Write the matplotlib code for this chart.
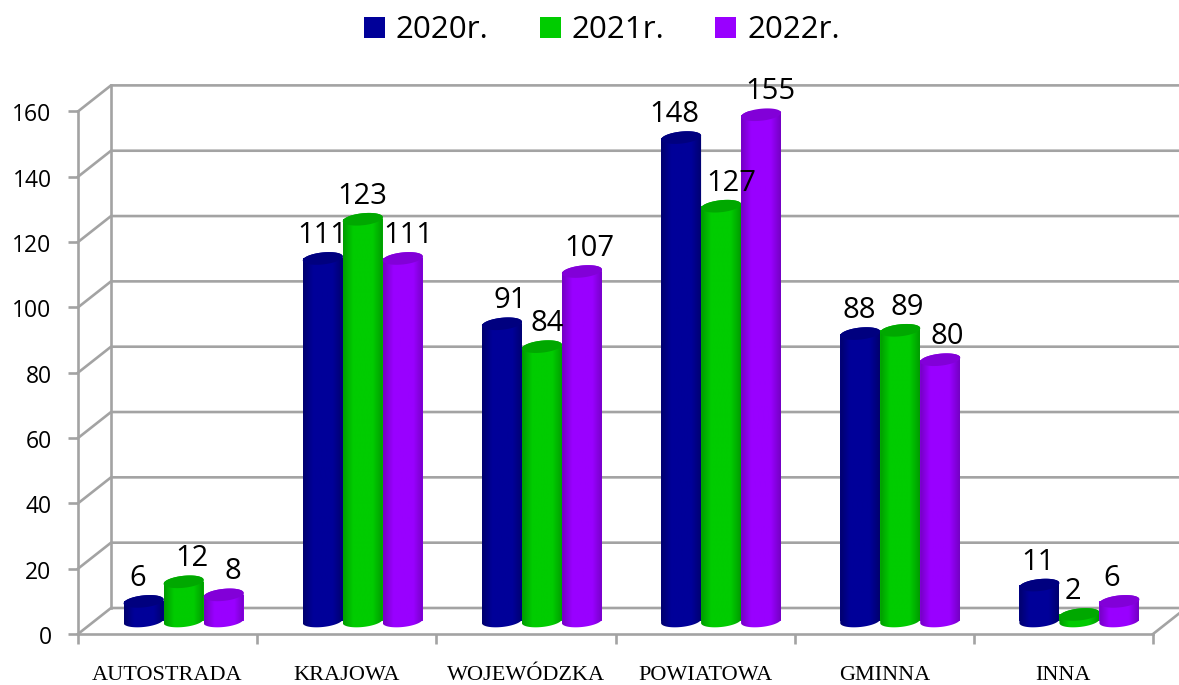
import numpy as np
import matplotlib
matplotlib.use("Agg")
import matplotlib.pyplot as plt
from matplotlib.colors import LinearSegmentedColormap
from matplotlib.patches import Patch, Polygon
from matplotlib.transforms import ScaledTranslation

# Values
categories = ["AUTOSTRADA", "KRAJOWA", "WOJEWÓDZKA", "POWIATOWA", "GMINNA", "INNA"]
years = ["2020r.", "2021r.", "2022r."]
v2020 = [6, 111, 91, 148, 88, 11]
v2021 = [12, 123, 84, 127, 89, 2]
v2022 = [8, 111, 107, 155, 80, 6]
y_ticks = [0, 20, 40, 60, 80, 100, 120, 140, 160]

series = [v2020, v2021, v2022]
# base, edge, cap colours per series
base_col = ["#000099", "#00CC00", "#9900FF"]
edge_col = ["#00006E", "#009C00", "#7400C4"]
cap_col = ["#00007F", "#00A800", "#8200D8"]

# hand nudges of the value labels in pixels, they are not regular in the original
nudge = [
    [-6, -1, 8, -7, -1, -1],
    [8, -1, 5, 10, 7, -6],
    [9, 5, 7, 9, 7, -8],
]

fig = plt.figure(figsize=(11.79, 6.85), dpi=100, facecolor="white")
ax = fig.add_axes([78 / 1179, (685 - 634) / 685, 1075 / 1179, 522.6 / 685])
ax.set_xlim(0, 6)
ax.set_ylim(0, 160)

px_x = 6 / 1075
px_y = 160 / 522.6
depth_x, depth_y = 33 * px_x, 26 * px_y
grid = "#A3A3A3"
sans = "Open Sans"

# back wall and side wall
for v in y_ticks:
    ax.plot([0, depth_x, 6 + depth_x], [v, v + depth_y, v + depth_y], color=grid, lw=1.9,
            clip_on=False, zorder=1, solid_joinstyle="miter")
ax.plot([depth_x, depth_x], [depth_y, 160 + depth_y], color=grid, lw=1.9, clip_on=False, zorder=1)
ax.plot([6, 6 + depth_x], [0, depth_y], color=grid, lw=1.9, clip_on=False, zorder=1)

# cylinders
bar_w = 40 * px_x
half_h = 6 * px_y
shear = 2 * px_y
t = np.linspace(0, 2 * np.pi, 121)


def ring(xc, yc):
    return xc + bar_w / 2 * np.cos(t), yc + half_h * np.sin(t) + shear * np.cos(t)


for s, vals in enumerate(series):
    cmap = LinearSegmentedColormap.from_list(
        "c", [edge_col[s], base_col[s], base_col[s], base_col[s], edge_col[s]])
    for c, v in enumerate(vals):
        xc = c + 0.5 + 16 * px_x + (s - 1) * bar_w
        y0 = depth_y / 2
        z = 3 + s
        ax.bar(xc, v, bar_w, bottom=y0, color=base_col[s], zorder=z)
        bx, by = ring(xc, y0)
        tx, ty = ring(xc, y0 + v)
        low = t >= np.pi
        up = t <= np.pi
        outline = np.column_stack([np.r_[bx[low], tx[up]], np.r_[by[low], ty[up]]])
        body = Polygon(outline, closed=True, fc="none", ec="none", zorder=z)
        ax.add_patch(body)
        im = ax.imshow(np.linspace(0, 1, 64)[None, :], cmap=cmap, aspect="auto", zorder=z + 0.1,
                       extent=[xc - bar_w / 2, xc + bar_w / 2, y0 - 2 * half_h, y0 + v + 2 * half_h])
        im.set_clip_path(body)
        ax.fill(tx, ty, color=cap_col[s], lw=0, zorder=z + 0.2, clip_on=False)
        ax.annotate(str(v), (xc, y0 + v), xytext=(nudge[s][c], 23), textcoords="offset pixels",
                    ha="center", va="center", fontsize=21, family=sans, color="black",
                    zorder=10, annotation_clip=False)

ax.set_xlim(0, 6)
ax.set_ylim(0, 160)

# axes
for name in ["top", "right"]:
    ax.spines[name].set_visible(False)
for name in ["left", "bottom"]:
    ax.spines[name].set_color(grid)
    ax.spines[name].set_linewidth(1.9)
    ax.spines[name].set_zorder(2)
ax.set_facecolor("none")
ax.set_yticks(y_ticks)
ax.set_yticklabels([str(v) for v in y_ticks], fontsize=16.5, family=sans, color="black")
ax.set_xticks(range(7))
ax.set_xticklabels([])
ax.set_xticks(np.arange(6) + 0.5, minor=True)
ax.set_xticklabels(categories, minor=True, fontsize=16, family="Liberation Serif", color="black")
ax.tick_params(axis="y", length=7, width=1.9, color=grid, pad=12)
ax.tick_params(axis="x", which="major", length=7, width=1.9, color=grid)
ax.tick_params(axis="x", which="minor", length=0, pad=23)

# tick labels sit a little below their ticks in the original
for lab in ax.get_yticklabels():
    lab.set_transform(lab.get_transform() + ScaledTranslation(0, -1 / 100, fig.dpi_scale_trans))

handles = [Patch(color=c, lw=0) for c in base_col]
fig.legend(handles, years, ncol=3, loc="upper center", bbox_to_anchor=(0.5105, 1.019), frameon=False,
           prop={"family": sans, "size": 22.6}, handlelength=0.67, handleheight=0.67,
           handletextpad=0.35, columnspacing=1.62, labelspacing=0)

fig.savefig("out.png", dpi=100)
